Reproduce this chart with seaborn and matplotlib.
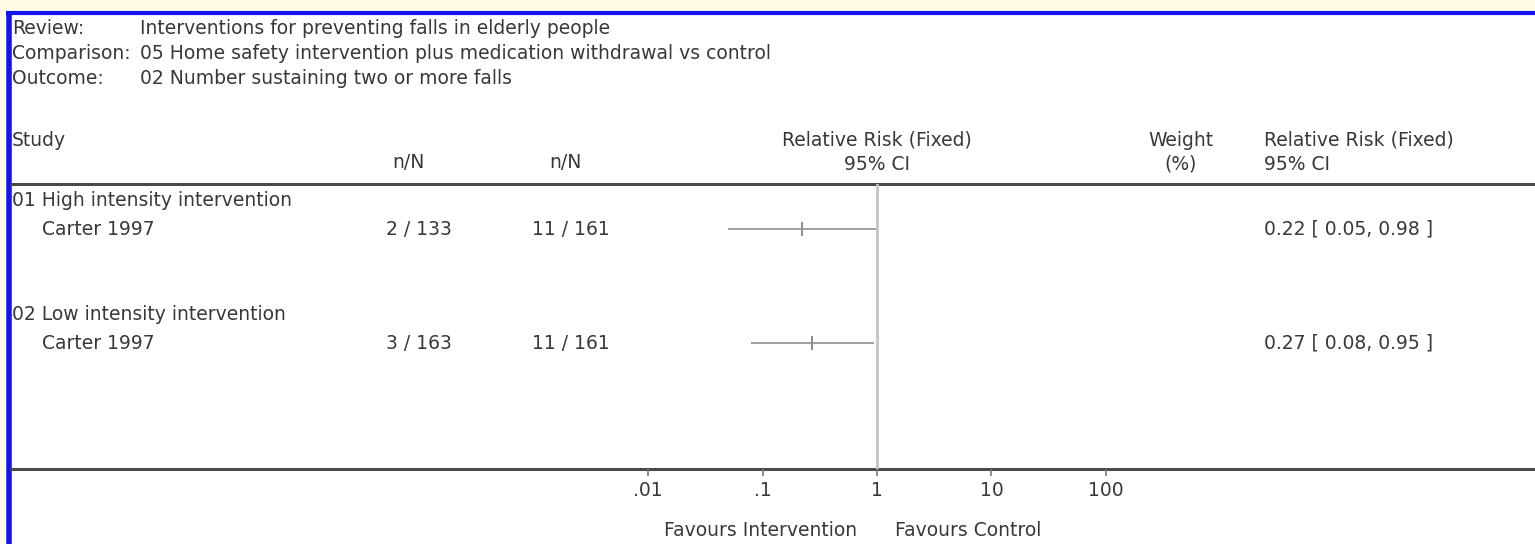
import numpy as np
import pandas as pd
import matplotlib
matplotlib.use('Agg')
import matplotlib.pyplot as plt
import matplotlib.transforms as mtransforms
import seaborn as sns

# data
header_labels = ["Review:", "Comparison:", "Outcome:"]
header_values = ["Interventions for preventing falls in elderly people",
                 "05 Home safety intervention plus medication withdrawal vs control",
                 "02 Number sustaining two or more falls"]
groups = ["01 High intensity intervention", "02 Low intensity intervention"]
studies = ["Carter 1997", "Carter 1997"]
treat_nN = ["2 / 133", "3 / 163"]
ctrl_nN = ["11 / 161", "11 / 161"]
rr = [0.22, 0.27]
ci_low = [0.05, 0.08]
ci_high = [0.98, 0.95]
tick_vals = [0.01, 0.1, 1, 10, 100]
tick_labels = [".01", ".1", "1", "10", "100"]

# row index of each study line (group title sits one row above)
study_rows = [1, 5]
df = pd.DataFrame({"study": studies, "rr": rr, "lo": ci_low, "hi": ci_high, "row": study_rows})

sns.set_style("white")
plt.rcParams['font.family'] = ['DejaVu Sans']
txt_color = "#383838"
fs = 13.5

fig = plt.figure(figsize=(15.35, 5.44), dpi=100)
fig.patch.set_facecolor("#fffbe6")

# background / frame axes in pixel units
bg = fig.add_axes([0, 0, 1, 1])
bg.set_xlim(0, 1535)
bg.set_ylim(544, 0)
bg.axis("off")
bg.fill_between([6, 1535], 13, 544, color="white", zorder=0)
bg.plot([6, 1535], [13, 13], color="#1414f0", lw=3, solid_capstyle="butt")
bg.plot([8.5, 8.5], [11.5, 544], color="#1414f0", lw=4, solid_capstyle="butt")
bg.plot([11, 1535], [184, 184], color="#4a4a4a", lw=2.2)
bg.plot([11, 1535], [469, 469], color="#4a4a4a", lw=2.2)

for i, (lab, val) in enumerate(zip(header_labels, header_values)):
    y = 29 + 24.5 * i
    bg.text(12, y, lab, fontsize=fs, color=txt_color, va="center")
    bg.text(140, y, val, fontsize=fs, color=txt_color, va="center")

bg.text(12, 140, "Study", fontsize=fs, color=txt_color, va="center")
bg.text(408, 163, "n/N", fontsize=fs, color=txt_color, va="center", ha="center")
bg.text(565, 163, "n/N", fontsize=fs, color=txt_color, va="center", ha="center")
bg.text(877, 140, "Relative Risk (Fixed)", fontsize=fs, color=txt_color, va="center", ha="center")
bg.text(877, 164, "95% CI", fontsize=fs, color=txt_color, va="center", ha="center")
bg.text(1181, 140, "Weight", fontsize=fs, color=txt_color, va="center", ha="center")
bg.text(1181, 164, "(%)", fontsize=fs, color=txt_color, va="center", ha="center")
bg.text(1264, 140, "Relative Risk (Fixed)", fontsize=fs, color=txt_color, va="center")
bg.text(1264, 164, "95% CI", fontsize=fs, color=txt_color, va="center")
bg.text(857, 530, "Favours Intervention", fontsize=fs, color=txt_color, va="center", ha="right")
bg.text(895, 530, "Favours Control", fontsize=fs, color=txt_color, va="center", ha="left")

# forest axes: x from .01 to 100 spans pixels 648..1106, y from rule 184 to 469
y0, dy = 201, 28.5
ax = fig.add_axes([648 / 1535, (544 - 469) / 544, (1106 - 648) / 1535, (469 - 184) / 544])
ax.set_xscale("log")
ax.set_xlim(0.01, 100)
ax.set_ylim((469 - y0) / dy, (184 - y0) / dy)
ax.patch.set_alpha(0)
for s in ax.spines.values():
    s.set_visible(False)
ax.set_yticks([])
ax.set_xticks(tick_vals)
ax.set_xticklabels(tick_labels)
ax.minorticks_off()
ax.tick_params(axis="x", length=5, width=1.2, color="#777777", pad=4,
               labelsize=fs, labelcolor=txt_color, bottom=True)
ax.axvline(1, color="#c4c4c4", lw=2)
ax.hlines(df["row"], df["lo"], df["hi"], color="#8f8f8f", lw=1.2)
sns.scatterplot(data=df, x="rr", y="row", marker="|", s=110, color="#7a7a7a",
                linewidth=1.2, ax=ax, legend=False)
ax.set_xlabel("")
ax.set_ylabel("")

# row text: x in pixel units, y in forest-row units
tr = mtransforms.blended_transform_factory(bg.transData, ax.transData)
for g, s, t, c, r, lo, hi, row in zip(groups, studies, treat_nN, ctrl_nN, rr, ci_low, ci_high, study_rows):
    ax.text(12, row - 1, g, transform=tr, fontsize=fs, color=txt_color, va="center")
    ax.text(42, row, s, transform=tr, fontsize=fs, color=txt_color, va="center")
    ax.text(386, row, t, transform=tr, fontsize=fs, color=txt_color, va="center")
    ax.text(532, row, c, transform=tr, fontsize=fs, color=txt_color, va="center")
    ax.text(1264, row, f"{r:.2f} [ {lo:.2f}, {hi:.2f} ]", transform=tr,
            fontsize=fs, color=txt_color, va="center")

fig.savefig("out.png", dpi=100)
